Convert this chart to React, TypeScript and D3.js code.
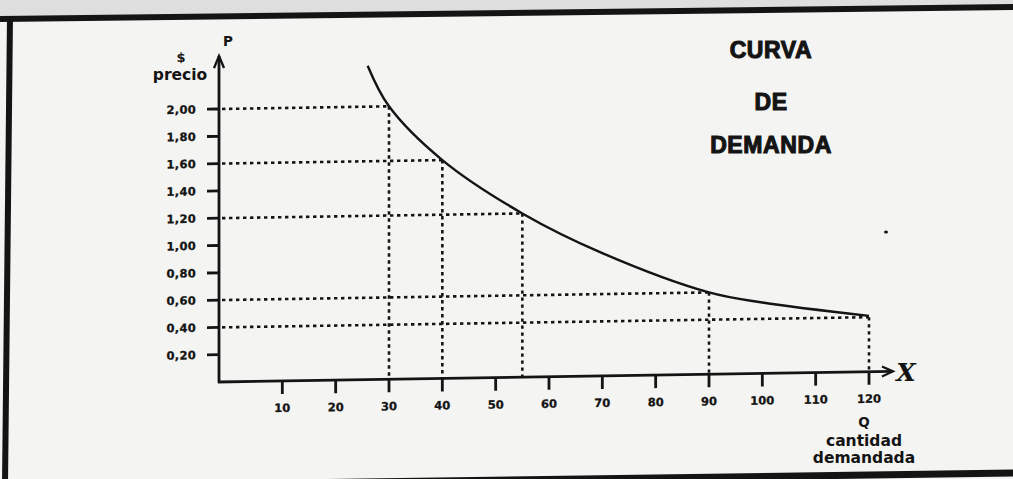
import React from "react";
import * as d3 from "d3";

const demandQ = [26, 30, 40, 55, 70, 90, 100, 120];
const demandP = [2.3, 2.0, 1.6, 1.2, 0.9, 0.6, 0.52, 0.41];
const guideQ = [30, 40, 55, 90, 120];
const guideP = [2.0, 1.6, 1.2, 0.6, 0.4];
const yTicks = [0.2, 0.4, 0.6, 0.8, 1.0, 1.2, 1.4, 1.6, 1.8, 2.0];
const yTickLabels = ["0,20", "0,40", "0,60", "0,80", "1,00", "1,20", "1,40", "1,60", "1,80", "2,00"];
const xTicks = [10, 20, 30, 40, 50, 60, 70, 80, 90, 100, 110, 120];
const xTickLabels = ["10", "20", "30", "40", "50", "60", "70", "80", "90", "100", "110", "120"];
const titleLines = ["CURVA", "DE", "DEMANDA"];
const xAxisLabels = ["Q", "cantidad", "demandada"];

const W = 1013;
const H = 479;
const INK = "#141414";
const PAPER = "#f4f4f2";
const tickFont = "'DejaVu Sans', Verdana, sans-serif";

export default function App() {
  const x = d3.scaleLinear().domain([0, 120]).range([229, 869]);
  const y = d3.scaleLinear().domain([0, 2]).range([382, 109]);
  const axisX = 219;
  const axisY = y(0);

  const pts: [number, number][] = demandQ.map((q, i) => [q, demandP[i]]);
  const line = d3
    .line<[number, number]>()
    .x((d) => x(d[0]))
    .y((d) => y(d[1]))
    .curve(d3.curveCatmullRom.alpha(0.5));

  const dash = "3.4 3.6";

  return (
    <svg
      width={W}
      height={H}
      style={{ position: "absolute", left: 0, top: 0, background: PAPER }}
    >
      <rect x={0} y={0} width={W} height={H} fill={PAPER} />
      {/* scanner shadow above frame */}
      <polygon points={`0,0 ${W},0 ${W},7 0,18`} fill="#dedede" />
      {/* frame */}
      <line x1={0} y1={19} x2={W + 5} y2={7} stroke={INK} strokeWidth={6} />
      <line x1={10} y1={16} x2={5} y2={H + 5} stroke={INK} strokeWidth={6} />
      <line x1={0} y1={487} x2={W + 5} y2={473} stroke={INK} strokeWidth={7} />

      {/* speck */}
      <ellipse cx={886} cy={232} rx={2} ry={1.6} fill={INK} />

      <g transform={`translate(${axisX},${axisY}) skewY(-0.9) translate(${-axisX},${-axisY})`}>
        {/* horizontal guides */}
        {guideQ.map((q, i) => (
          <line
            key={"h" + i}
            x1={axisX + 3}
            x2={x(q)}
            y1={y(guideP[i])}
            y2={y(guideP[i])}
            stroke={INK}
            strokeWidth={2.6}
            strokeDasharray={dash}
          />
        ))}
        {/* vertical guides */}
        {guideQ.map((q, i) => (
          <line
            key={"v" + i}
            x1={x(q)}
            x2={x(q)}
            y1={y(guideP[i])}
            y2={axisY}
            stroke={INK}
            strokeWidth={2.6}
            strokeDasharray={dash}
          />
        ))}

        {/* demand curve */}
        <path d={line(pts) || ""} fill="none" stroke={INK} strokeWidth={2.4} />

        {/* y axis */}
        <line x1={axisX} x2={axisX} y1={axisY + 1} y2={56} stroke={INK} strokeWidth={2.8} />
        <polyline
          points={`${axisX - 5},${68} ${axisX},${56} ${axisX + 5},${68}`}
          fill="none"
          stroke={INK}
          strokeWidth={2.4}
        />
        {yTicks.map((t, i) => (
          <g key={"yt" + i}>
            <line x1={axisX - 12} x2={axisX} y1={y(t)} y2={y(t)} stroke={INK} strokeWidth={2.8} />
            <text
              x={axisX - 23}
              y={y(t)}
              dy="0.36em"
              textAnchor="end"
              fontFamily={tickFont}
              fontWeight="bold"
              fontSize={11.5}
              letterSpacing={0.3}
              stroke={INK}
              strokeWidth={0.3}
              fill={INK}
            >
              {yTickLabels[i]}
            </text>
          </g>
        ))}

        {/* x axis */}
        <line x1={axisX - 1} x2={x(124.5)} y1={axisY} y2={axisY} stroke={INK} strokeWidth={2.8} />
        <polyline
          points={`${x(124.5) - 11},${axisY - 5} ${x(124.5)},${axisY} ${x(124.5) - 11},${axisY + 5}`}
          fill="none"
          stroke={INK}
          strokeWidth={2.2}
        />
        {xTicks.map((t, i) => (
          <g key={"xt" + i}>
            <line x1={x(t)} x2={x(t)} y1={axisY} y2={axisY + 13} stroke={INK} strokeWidth={2.8} />
            <text
              x={x(t)}
              y={axisY + 31}
              textAnchor="middle"
              fontFamily={tickFont}
              fontWeight="bold"
              fontSize={11.5}
              stroke={INK}
              strokeWidth={0.3}
              fill={INK}
            >
              {xTickLabels[i]}
            </text>
          </g>
        ))}
      </g>

      {/* handwritten X mark */}
      <text
        x={906}
        y={381}
        textAnchor="middle"
        fontFamily="'DejaVu Serif', serif"
        fontStyle="italic"
        fontWeight="bold"
        fontSize={25}
        fill={INK}
      >
        X
      </text>

      {/* y axis labels */}
      <text x={228} y={46} textAnchor="middle" fontFamily={tickFont} fontWeight="bold" fontSize={13.5} fill={INK}>
        P
      </text>
      <text x={181} y={62} textAnchor="middle" fontFamily={tickFont} fontWeight="bold" fontSize={13} fill={INK}>
        $
      </text>
      <text x={180} y={80} textAnchor="middle" fontFamily={tickFont} fontWeight="bold" fontSize={15.5} fill={INK}>
        precio
      </text>

      {/* x axis labels */}
      {xAxisLabels.map((s, i) => (
        <text
          key={"xl" + i}
          x={864}
          y={[427, 446, 463][i]}
          textAnchor="middle"
          fontFamily={tickFont}
          fontWeight="bold"
          fontSize={i === 0 ? 13.5 : 15.5}
          fill={INK}
        >
          {s}
        </text>
      ))}

      {/* title */}
      {titleLines.map((s, i) => (
        <text
          key={"t" + i}
          x={771}
          y={[58, 110, 153][i]}
          textAnchor="middle"
          fontFamily="'Liberation Sans', Arial, sans-serif"
          fontWeight="bold"
          fontSize={23}
          letterSpacing={0.6}
          stroke={INK}
          strokeWidth={1.1}
          fill={INK}
        >
          {s}
        </text>
      ))}
    </svg>
  );
}
